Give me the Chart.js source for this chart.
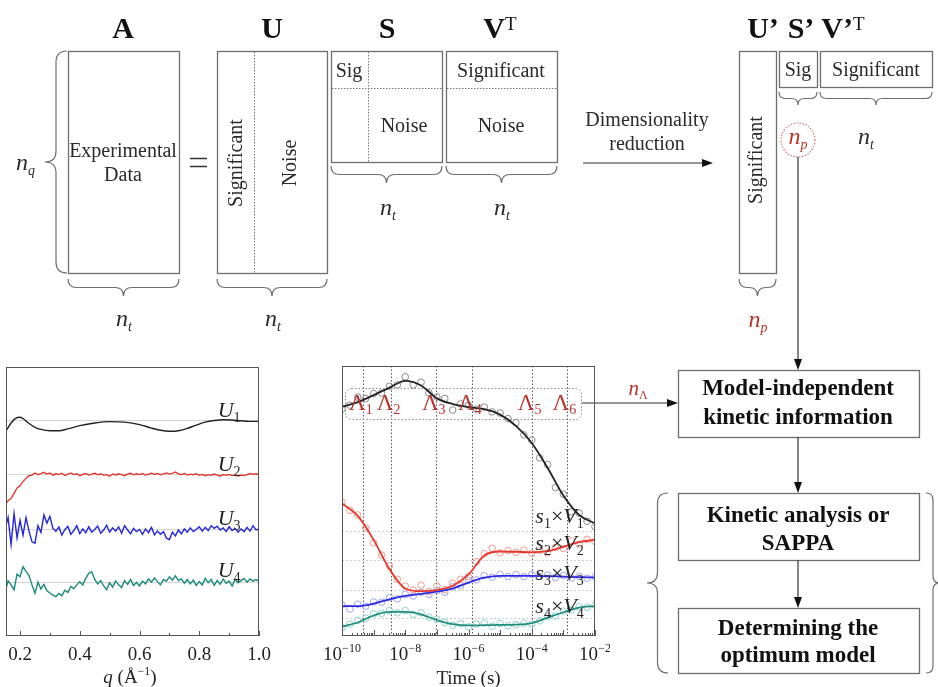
<!DOCTYPE html>
<html>
<head>
<meta charset="utf-8">
<script src="https://cdn.jsdelivr.net/npm/chart.js@4.4.1/dist/chart.umd.min.js"></script>
<style>
  html, body { margin: 0; padding: 0; background: #fff; }
  #stage { position: relative; width: 938px; height: 687px; overflow: hidden; }
  #diagram { position: absolute; left: 0; top: 0; }
  .plot { position: absolute; }
  #boxU { left: 0; top: 355px; width: 280px; height: 332px; }
  #boxT { left: 320px; top: 355px; width: 290px; height: 332px; }
</style>
</head>
<body>
<div id="stage">
  <canvas id="diagram" width="938" height="687"></canvas>
  <div class="plot" id="boxU"><canvas id="chartU"></canvas></div>
  <div class="plot" id="boxT"><canvas id="chartT"></canvas></div>
</div>
<script>
// ------------------------------------------------------------
// Left panel: basis vectors U1..U4 (offset) vs q
// ------------------------------------------------------------
const Q = [0.155,0.16,0.17,0.18,0.19,0.20,0.21,0.22,0.23,0.24,0.25,0.26,0.27,0.28,0.29,0.30,0.31,0.32,0.33,0.34,0.35,0.36,0.37,0.38,0.39,0.40,0.41,0.42,0.43,0.44,0.45,0.46,0.47,0.48,0.49,0.50,0.51,0.52,0.53,0.54,0.55,0.56,0.57,0.58,0.59,0.60,0.61,0.62,0.63,0.64,0.65,0.66,0.67,0.68,0.69,0.70,0.71,0.72,0.73,0.74,0.75,0.76,0.77,0.78,0.79,0.80,0.81,0.82,0.83,0.84,0.85,0.86,0.87,0.88,0.89,0.90,0.91,0.92,0.93,0.94,0.95,0.96,0.97,0.98,0.99,1.00];

// U1 is smooth, read on a coarser grid
const Q1 = [0.155,0.17,0.185,0.20,0.215,0.23,0.25,0.27,0.30,0.33,0.36,0.40,0.45,0.50,0.55,0.60,0.64,0.67,0.70,0.73,0.76,0.79,0.82,0.85,0.88,0.91,0.94,0.97,1.0];
const U1 = [76.6,79.2,80.9,81.3,80.4,79.0,77.6,76.8,76.3,76.3,77.0,78.2,79.2,79.7,79.5,78.6,77.3,76.5,76.1,76.3,77.2,78.4,79.5,80.1,80.4,80.3,80.0,79.8,79.8];

const U2 = [49.5,50.3,51.2,53.0,55.0,55.8,57.4,58.6,59.6,59.8,
            60.6,60.0,60.4,60.9,60.2,60.6,59.8,60.3,60.0,60.5,
            59.7,60.2,60.6,60.0,60.3,59.6,60.1,60.4,59.8,60.2,
            60.5,59.9,60.3,59.7,60.0,59.4,60.2,59.8,60.3,60.0,
            59.6,60.2,60.5,59.9,60.3,60.0,60.4,59.8,60.2,60.5,
            60.1,60.4,59.9,60.3,60.6,60.2,60.5,61.0,60.3,60.0,
            60.4,59.8,60.2,59.9,60.3,59.7,60.1,59.6,60.0,59.7,
            60.2,59.8,59.5,60.0,59.7,60.1,59.6,59.9,59.5,59.8,
            59.6,60.0,60.4,60.1,60.3,59.9];

const U3 = [41.9,44.0,34.0,45.5,36.5,43.0,37.5,44.0,39.0,35.0,
            34.5,41.0,38.5,45.0,42.0,44.5,40.0,39.0,40.5,37.5,
            39.5,40.8,37.8,39.2,41.0,38.0,39.8,38.4,40.6,38.6,
            39.6,40.9,38.2,39.4,41.2,38.6,40.2,39.0,40.6,38.2,
            41.0,39.4,38.0,40.0,38.8,39.6,37.8,39.8,38.4,40.4,
            37.6,39.0,37.8,38.8,36.4,35.8,38.6,37.2,39.4,38.0,
            39.8,38.6,40.2,38.8,39.6,40.6,39.0,40.4,39.2,41.0,
            40.0,40.8,39.4,40.2,38.8,40.6,39.2,40.0,38.6,39.8,
            38.8,40.4,39.0,41.0,39.4,39.8];

const U4 = [18.4,20.5,19.0,17.2,23.0,22.0,25.8,24.0,22.5,19.0,
            15.9,20.0,17.5,19.2,16.8,16.0,15.2,14.6,15.8,15.0,
            17.0,16.2,18.4,17.6,19.0,20.2,19.0,21.4,23.3,23.9,
            21.0,19.4,20.6,18.6,17.2,19.8,18.2,20.4,19.0,18.0,
            20.6,19.2,21.0,18.8,20.0,18.6,20.4,19.4,21.2,20.0,
            21.6,20.2,19.0,21.0,20.4,22.0,20.8,22.4,20.6,21.2,
            19.6,21.0,19.4,20.8,18.8,20.2,19.0,21.4,19.8,21.0,
            18.8,20.6,19.2,21.2,19.6,20.4,18.6,21.0,19.8,20.6,
            21.4,20.0,21.2,20.4,21.0,20.4];

const U_BASE = [20, 39.5, 60, 80];              // faint zero lines of each offset vector
const U_NAMES = ['1', '2', '3', '4'];
const U_LABEL_Y = [81.4, 61.2, 41.2, 21.8];
const Q_TICKS = [0.2,0.3,0.4,0.5,0.6,0.7,0.8,0.9,1.0];
const Q_LABELS = ['0.2', '0.4', '0.6', '0.8', '1.0'];

// ------------------------------------------------------------
// Middle panel: s_i x V_i vs time (log), fits + data
// ------------------------------------------------------------
const T_FIT = [1e-10,3.16e-10,1e-9,3.16e-9,1e-8,3.16e-8,1e-7,3.16e-7,1e-6,3.16e-6,1e-5,3.16e-5,1e-4,3.16e-4,1e-3,3.16e-3,1e-2];
const V1_FIT = [84.9,86.6,89.2,92.0,94.5,92.8,88.0,85.9,84.8,84.0,82.0,77.8,71.5,62.3,52.0,44.8,41.7];
const V2_FIT = [49.1,44.5,35.6,24.8,17.6,16.6,17.0,18.6,22.8,29.8,31.3,31.2,31.0,31.4,33.0,34.8,35.6];
const V3_FIT = [11.1,11.1,12.0,13.6,14.9,15.6,16.4,17.6,19.8,21.6,22.3,22.3,22.3,22.2,22.0,21.8,21.7];
const V4_FIT = [3.5,5.0,7.6,8.9,8.9,8.0,5.9,4.4,3.9,4.0,4.1,4.2,4.8,6.8,8.8,10.5,11.1];

const T_OBS = [1e-10,1.78e-10,3.16e-10,5.62e-10,1e-9,1.78e-9,3.16e-9,5.62e-9,1e-8,1.78e-8,3.16e-8,5.62e-8,1e-7,1.78e-7,3.16e-7,5.62e-7,1e-6,1.78e-6,3.16e-6,5.62e-6,1e-5,1.78e-5,3.16e-5,5.62e-5,1e-4,1.78e-4,3.16e-4,5.62e-4,1e-3,1.78e-3,3.16e-3,5.62e-3,1e-2];
const V1_OBS = [84.0,85.5,88.5,88.0,89.8,90.0,92.5,93.0,96.0,93.0,94.0,90.0,88.5,88.0,83.7,86.0,85.5,84.0,84.8,83.0,82.6,80.5,79.0,74.5,72.5,66.0,63.5,55.0,52.5,46.0,45.5,42.5,40.5];
const V2_OBS = [49.5,46.5,44.8,40.0,34.5,30.0,26.0,21.0,18.5,17.0,18.8,16.5,18.5,17.2,19.5,21.0,22.0,27.5,30.5,32.5,30.8,31.6,31.0,31.8,30.6,31.6,30.8,32.8,32.4,35.2,34.0,35.8,35.0];
const V3_OBS = [11.5,10.0,11.8,11.0,12.6,12.5,14.2,13.8,15.4,14.8,16.2,15.4,16.8,16.2,18.2,18.6,20.6,20.8,22.4,21.8,22.8,22.0,22.7,22.0,22.8,22.1,22.6,21.6,22.4,21.5,22.1,21.4,21.9];
const V4_OBS = [3.0,4.4,5.8,6.6,8.2,8.4,9.4,8.6,9.4,8.0,8.6,7.0,6.2,5.0,4.0,4.6,3.4,4.4,4.8,3.6,4.6,3.8,4.2,4.8,4.4,5.6,7.2,7.4,9.2,9.6,10.8,10.6,11.4];

const T_GRID = [6.6, 17.0, 28.1, 38.6];
const LAMBDA_T = [4.6e-10, 3.5e-9, 9.3e-8, 1.3e-6, 1.0e-4, 1.26e-3];
const LAMBDA_NAMES = ['1', '2', '3', '4', '5', '6'];
const SV_NAMES = ['1', '2', '3', '4'];
const SV_LABEL_Y = [41.9, 31.9, 20.7, 8.5];
const SV_LABEL_T = 1.3e-4;
const T_DECADES = [-10,-9,-8,-7,-6,-5,-4,-3,-2];
const T_LABEL_EXP = [-10, -8, -6, -4, -2];

// ------------------------------------------------------------
// helpers
// ------------------------------------------------------------
const SERIF = '"Liberation Serif", "Times New Roman", serif';
const RED = '#b8332b';
function font(size, style) { return (style ? style + ' ' : '') + size + 'px ' + SERIF; }

// parts: [text, size, style, dy, color]
function rich(g, x, y, parts, align) {
  const base = g.fillStyle;
  let w = 0;
  const ws = parts.map(p => { g.font = font(p[1], p[2]); const m = g.measureText(p[0]).width; w += m; return m; });
  let cx = align === 'center' ? x - w / 2 : (align === 'right' ? x - w : x);
  g.textAlign = 'left';
  g.textBaseline = 'alphabetic';
  parts.forEach((p, i) => {
    g.font = font(p[1], p[2]);
    g.fillStyle = p[4] || base;
    g.fillText(p[0], cx, y + (p[3] || 0));
    cx += ws[i];
  });
  g.fillStyle = base;
}

function brace(g, x1, y1, x2, y2, d) {
  const L = Math.hypot(x2 - x1, y2 - y1), a = Math.atan2(y2 - y1, x2 - x1);
  const h = d / 2, r = Math.min(h, L / 4), m = L / 2;
  g.save();
  g.translate(x1, y1);
  g.rotate(a);
  g.beginPath();
  g.moveTo(0, 0);
  g.quadraticCurveTo(0, h, r, h);
  g.lineTo(m - r, h);
  g.quadraticCurveTo(m, h, m, d);
  g.quadraticCurveTo(m, h, m + r, h);
  g.lineTo(L - r, h);
  g.quadraticCurveTo(L, h, L, 0);
  g.stroke();
  g.restore();
}

function arrow(g, x1, y1, x2, y2) {
  const a = Math.atan2(y2 - y1, x2 - x1), len = 11, hw = 4;
  g.beginPath();
  g.moveTo(x1, y1);
  g.lineTo(x2 - Math.cos(a) * len, y2 - Math.sin(a) * len);
  g.stroke();
  g.beginPath();
  g.moveTo(x2, y2);
  g.lineTo(x2 - Math.cos(a) * len - Math.sin(a) * hw, y2 - Math.sin(a) * len + Math.cos(a) * hw);
  g.lineTo(x2 - Math.cos(a) * len + Math.sin(a) * hw, y2 - Math.sin(a) * len - Math.cos(a) * hw);
  g.closePath();
  g.fill();
}

function dotted(g, x1, y1, x2, y2) {
  g.save();
  g.setLineDash([1.5, 1.5]);
  g.strokeStyle = '#777';
  g.lineWidth = 1;
  g.beginPath();
  g.moveTo(x1, y1);
  g.lineTo(x2, y2);
  g.stroke();
  g.restore();
}

function vtext(g, txt, x, y, size) {
  g.save();
  g.translate(x, y);
  g.rotate(-Math.PI / 2);
  g.font = font(size);
  g.textAlign = 'center';
  g.textBaseline = 'middle';
  g.fillText(txt, 0, 0);
  g.restore();
}

function ctext(g, txt, x, y, size, style) {
  g.font = font(size, style);
  g.textAlign = 'center';
  g.textBaseline = 'alphabetic';
  g.fillText(txt, x, y);
}

// ------------------------------------------------------------
// Diagram (matrices, braces, flow boxes)
// ------------------------------------------------------------
function drawDiagram() {
  const g = document.getElementById('diagram').getContext('2d');
  g.fillStyle = '#fff';
  g.fillRect(0, 0, 938, 687);

  g.strokeStyle = '#6e6e6e';
  g.lineWidth = 1.3;
  [[68,51,111,222],[217,51,110,222],[331,51,111,111],[446,51,111,111],
   [739,51,37,222],[779,51,38,36],[820,51,112,36],
   [678,370,241,67],[678,493,241,67],[678,608,241,65]].forEach(b => g.strokeRect(b[0] + 0.5, b[1] + 0.5, b[2], b[3]));

  dotted(g, 254.5, 52, 254.5, 273);
  dotted(g, 332, 88.5, 442, 88.5);
  dotted(g, 368.5, 52, 368.5, 162);
  dotted(g, 447, 88.5, 557, 88.5);

  // braces
  g.strokeStyle = '#6e6e6e';
  g.lineWidth = 1.2;
  brace(g, 68, 279, 179, 279, 17);
  brace(g, 217, 279, 327, 279, 17);
  brace(g, 331, 166, 442, 166, 17);
  brace(g, 446, 166, 557, 166, 17);
  brace(g, 739, 279, 776, 279, 17);
  brace(g, 779, 92, 817, 92, 13);
  brace(g, 820, 92, 932, 92, 13);
  brace(g, 67, 51, 67, 273, 22);
  brace(g, 668, 493, 668, 673, 21);
  brace(g, 926, 673, 926, 493, 14);

  // "=" sign
  g.strokeStyle = '#333';
  g.lineWidth = 1.6;
  g.beginPath();
  g.moveTo(190, 158.5); g.lineTo(207, 158.5);
  g.moveTo(190, 166.5); g.lineTo(207, 166.5);
  g.stroke();

  // headings
  g.fillStyle = '#111';
  ctext(g, 'A', 123, 38, 30, 'bold');
  ctext(g, 'U', 272, 38, 30, 'bold');
  ctext(g, 'S', 387, 38, 30, 'bold');
  rich(g, 500, 38, [['V', 30, 'bold'], ['T', 19, '', -8]], 'center');
  rich(g, 763, 38, [['U\u2019', 30, 'bold']], 'center');
  rich(g, 801, 38, [['S\u2019', 30, 'bold']], 'center');
  rich(g, 843, 38, [['V\u2019', 30, 'bold'], ['T', 19, '', -8]], 'center');

  // matrix contents
  g.fillStyle = '#2a2a2a';
  ctext(g, 'Experimental', 123, 157, 20);
  ctext(g, 'Data', 123, 181, 20);
  vtext(g, 'Significant', 237, 163, 20);
  vtext(g, 'Noise', 291, 163, 20);
  ctext(g, 'Sig', 349, 77, 20);
  ctext(g, 'Noise', 404, 132, 20);
  ctext(g, 'Significant', 501, 77, 20);
  ctext(g, 'Noise', 501, 132, 20);
  vtext(g, 'Significant', 757, 160, 20);
  ctext(g, 'Sig', 798, 76, 20);
  ctext(g, 'Significant', 876, 76, 20);
  ctext(g, 'Dimensionality', 647, 126, 20);
  ctext(g, 'reduction', 647, 150, 20);

  // dimension labels
  const nt = [['n', 24, 'italic'], ['t', 14, 'italic', 5]];
  rich(g, 124, 326, nt, 'center');
  rich(g, 273, 326, nt, 'center');
  rich(g, 388, 215, nt, 'center');
  rich(g, 502, 215, nt, 'center');
  rich(g, 866, 144, nt, 'center');
  rich(g, 16, 170, [['n', 24, 'italic'], ['q', 14, 'italic', 5]], 'left');
  rich(g, 758, 327, [['n', 24, 'italic', 0, RED], ['p', 14, 'italic', 5, RED]], 'center');
  rich(g, 798, 144, [['n', 24, 'italic', 0, RED], ['p', 14, 'italic', 5, RED]], 'center');
  rich(g, 638, 395, [['n', 21, 'italic', 0, RED], ['\u039B', 12, '', 4, RED]], 'center');

  // dotted circle around n_p
  g.save();
  g.strokeStyle = '#d07070';
  g.lineWidth = 1.1;
  g.setLineDash([1.5, 1.5]);
  g.beginPath();
  g.arc(798, 140, 17, 0, Math.PI * 2);
  g.stroke();
  g.restore();

  // arrows
  g.strokeStyle = '#333';
  g.fillStyle = '#111';
  g.lineWidth = 1.2;
  arrow(g, 583, 163, 713, 163);
  arrow(g, 798, 157, 798, 370);
  arrow(g, 582, 403, 678, 403);
  arrow(g, 798, 437, 798, 493);
  arrow(g, 798, 560, 798, 608);

  // flow boxes
  g.fillStyle = '#111';
  ctext(g, 'Model-independent', 798, 395, 23, 'bold');
  ctext(g, 'kinetic information', 798, 424, 23, 'bold');
  ctext(g, 'Kinetic analysis or', 798, 522, 23, 'bold');
  ctext(g, 'SAPPA', 798, 550, 23, 'bold');
  ctext(g, 'Determining the', 798, 635, 23, 'bold');
  ctext(g, 'optimum model', 798, 662, 23, 'bold');
}

// ------------------------------------------------------------
// Chart decorations (frame, inner ticks, serif labels)
// ------------------------------------------------------------
function frame(ctx, a) {
  ctx.strokeStyle = '#555';
  ctx.lineWidth = 1;
  ctx.setLineDash([]);
  ctx.strokeRect(a.left + 0.5, a.top + 0.5, a.width - 1, a.height - 1);
}

const decorU = {
  id: 'decorU',
  afterDraw(chart) {
    const { ctx, chartArea: a, scales: { x, y } } = chart;
    ctx.save();
    frame(ctx, a);
    ctx.beginPath();
    Q_TICKS.forEach(v => {
      const px = Math.round(x.getPixelForValue(v)) + 0.5;
      const len = Math.round(v * 10) % 2 === 0 ? 5 : 3;
      ctx.moveTo(px, a.bottom);
      ctx.lineTo(px, a.bottom - len);
    });
    ctx.stroke();
    ctx.fillStyle = '#222';
    Q_LABELS.forEach(t => ctext(ctx, t, x.getPixelForValue(parseFloat(t)), a.bottom + 24, 19));
    rich(ctx, 130, a.bottom + 47, [['q', 19, 'italic'], [' (\u00C5', 19], ['\u22121', 12, '', -8], [')', 19]], 'center');
    U_NAMES.forEach((n, i) => {
      rich(ctx, x.getPixelForValue(0.9), y.getPixelForValue(U_LABEL_Y[i]),
        [['U', 22, 'italic'], [n, 14, '', 5]], 'center');
    });
    ctx.restore();
  }
};

const decorT = {
  id: 'decorT',
  beforeDatasetsDraw(chart) {
    const { ctx, chartArea: a, scales: { x } } = chart;
    ctx.save();
    ctx.strokeStyle = '#555';
    ctx.lineWidth = 1;
    ctx.setLineDash([1.5, 2]);
    LAMBDA_T.forEach(t => {
      const px = Math.round(x.getPixelForValue(t)) + 0.5;
      ctx.beginPath();
      ctx.moveTo(px, a.top);
      ctx.lineTo(px, a.bottom);
      ctx.stroke();
    });
    // rounded dotted box around the Lambda labels
    ctx.strokeStyle = '#888';
    ctx.beginPath();
    ctx.roundRect(a.left + 3.5, a.top + 22.5, a.width - 17, 31, 6);
    ctx.stroke();
    ctx.restore();
  },
  afterDraw(chart) {
    const { ctx, chartArea: a, scales: { x, y } } = chart;
    ctx.save();
    frame(ctx, a);
    ctx.beginPath();
    T_DECADES.forEach(e => {
      const px = Math.round(x.getPixelForValue(Math.pow(10, e))) + 0.5;
      ctx.moveTo(px, a.bottom);
      ctx.lineTo(px, a.bottom - 6);
      if (e < -2) {
        for (let k = 2; k <= 9; k++) {
          const mx = Math.round(x.getPixelForValue(k * Math.pow(10, e))) + 0.5;
          ctx.moveTo(mx, a.bottom);
          ctx.lineTo(mx, a.bottom - 3);
        }
      }
    });
    ctx.stroke();
    ctx.fillStyle = '#222';
    T_LABEL_EXP.forEach(e => {
      rich(ctx, x.getPixelForValue(Math.pow(10, e)), a.bottom + 24,
        [['10', 19], ['\u2212' + Math.abs(e), 12, '', -8]], 'center');
    });
    ctext(ctx, 'Time (s)', (a.left + a.right) / 2, a.bottom + 48, 19);
    // Lambda labels
    LAMBDA_T.forEach((t, i) => {
      rich(ctx, x.getPixelForValue(t) - 14, a.top + 44,
        [['\u039B', 23, '', 0, RED], [LAMBDA_NAMES[i], 14, '', 4, RED]], 'left');
    });
    // s_i x V_i labels
    SV_NAMES.forEach((n, i) => {
      rich(ctx, x.getPixelForValue(SV_LABEL_T), y.getPixelForValue(SV_LABEL_Y[i]),
        [['s', 22, 'italic'], [n, 14, '', 5], ['\u00D7', 22], ['V', 22, 'italic'], [n, 14, '', 5]], 'left');
    });
    ctx.restore();
  }
};

// ------------------------------------------------------------
// Charts
// ------------------------------------------------------------
function pts(xs, ys) { return xs.map((v, i) => ({ x: v, y: ys[i] })); }

function lineSet(data, color, width) {
  return { data: data, borderColor: color, borderWidth: width, pointRadius: 0, fill: false, tension: 0 };
}

function baseOptions(padding) {
  return {
    responsive: true,
    maintainAspectRatio: false,
    animation: false,
    events: [],
    layout: { padding: padding },
    plugins: { legend: { display: false }, tooltip: { enabled: false } }
  };
}

document.addEventListener('DOMContentLoaded', function () {
  drawDiagram();

  // Left chart
  const optU = baseOptions({ left: 6, top: 12, right: 21, bottom: 51 });
  optU.scales = {
    x: {
      type: 'linear', min: 0.153, max: 1.0,
      ticks: { display: false }, grid: { display: false, drawTicks: false }, border: { display: false },
      afterFit: s => { s.height = 0; }
    },
    y: {
      min: 0, max: 100,
      ticks: { display: false }, grid: { color: '#d4d4d4', lineWidth: 1, drawTicks: false }, border: { display: false },
      afterBuildTicks: s => { s.ticks = U_BASE.map(v => ({ value: v })); },
      afterFit: s => { s.width = 0; }
    }
  };
  new Chart(document.getElementById('chartU'), {
    type: 'line',
    data: {
      datasets: [
        Object.assign(lineSet(pts(Q1, U1), '#222', 1.4), { cubicInterpolationMode: 'monotone' }),
        lineSet(pts(Q, U2), '#e2302a', 1.3),
        lineSet(pts(Q, U3), '#2525d6', 1.4),
        lineSet(pts(Q, U4), '#1b8a7b', 1.4)
      ]
    },
    options: optU,
    plugins: [decorU]
  });

  // Middle chart
  const optT = baseOptions({ left: 22, top: 11, right: 15, bottom: 51 });
  optT.scales = {
    x: {
      type: 'logarithmic', min: 1e-10, max: 1e-2,
      ticks: { display: false }, grid: { display: false, drawTicks: false }, border: { display: false },
      afterFit: s => { s.height = 0; }
    },
    y: {
      min: 0, max: 100,
      ticks: { display: false },
      grid: { color: '#cfcfcf', lineWidth: 1, drawTicks: false },
      border: { display: false, dash: [2, 2] },
      afterBuildTicks: s => { s.ticks = T_GRID.map(v => ({ value: v })); },
      afterFit: s => { s.width = 0; }
    }
  };
  const fit = (ys, color) => Object.assign(lineSet(pts(T_FIT, ys), color, 1.8), { cubicInterpolationMode: 'monotone', order: 0 });
  const obs = (ys, color) => ({
    data: pts(T_OBS, ys), showLine: false, order: 1,
    pointStyle: 'circle', pointRadius: 3.3, pointBorderWidth: 1,
    pointBorderColor: color, pointBackgroundColor: 'rgba(255,255,255,0)'
  });
  new Chart(document.getElementById('chartT'), {
    type: 'line',
    data: {
      datasets: [
        fit(V1_FIT, '#222'), fit(V2_FIT, '#e8352c'), fit(V3_FIT, '#2a2ae2'), fit(V4_FIT, '#1f8c7e'),
        obs(V1_OBS, '#8c8c8c'), obs(V2_OBS, '#f09a90'), obs(V3_OBS, '#9ea4f2'), obs(V4_OBS, '#8ed2c6')
      ]
    },
    options: optT,
    plugins: [decorT]
  });
});
</script>
</body>
</html>
